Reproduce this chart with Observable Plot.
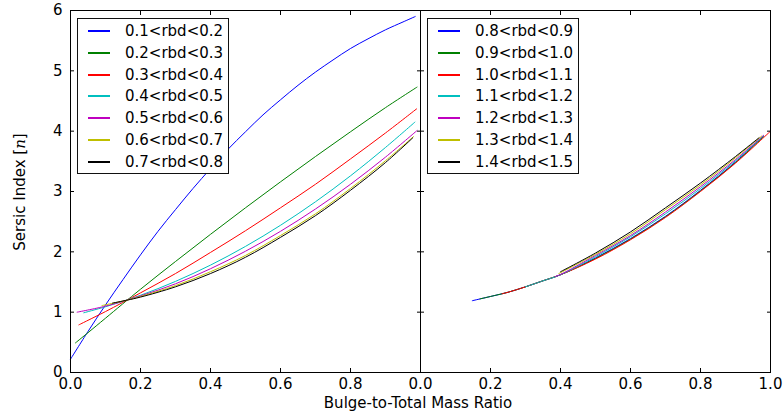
<!DOCTYPE html>
<html><head><meta charset="utf-8">
<script src="https://cdn.jsdelivr.net/npm/d3@7"></script>
<script src="https://cdn.jsdelivr.net/npm/@observablehq/plot@0.6"></script>
<style>
body{margin:0;background:#fff;}
#wrap{position:relative;width:783px;height:417px;overflow:hidden;font-family:"DejaVu Sans",sans-serif;color:#000;}
#wrap svg{overflow:visible;}
.panel{position:absolute;top:0;}
.lg{position:absolute;border:1px solid #111;background:#fff;box-sizing:border-box;}
.row{position:absolute;height:20px;line-height:20px;font-size:15px;white-space:nowrap;}
.smp{position:absolute;height:0;}
.ylab{position:absolute;left:19.5px;top:191.5px;transform:translate(-50%,-50%) rotate(-90deg);font-size:15px;white-space:nowrap;}
.xlab{position:absolute;left:418px;top:394px;transform:translateX(-50%);font-size:15px;white-space:nowrap;}
</style></head>
<body><div id="wrap"></div>
<script>
// ---- data ----
const colors = ["#0000ff","#008000","#ff0000","#00bfbf","#bf00bf","#bfbf00","#000000"];
const leftLabels  = ["0.1<rbd<0.2","0.2<rbd<0.3","0.3<rbd<0.4","0.4<rbd<0.5","0.5<rbd<0.6","0.6<rbd<0.7","0.7<rbd<0.8"];
const rightLabels = ["0.8<rbd<0.9","0.9<rbd<1.0","1.0<rbd<1.1","1.1<rbd<1.2","1.2<rbd<1.3","1.3<rbd<1.4","1.4<rbd<1.5"];
const xTicksLeft  = [0,0.2,0.4,0.6,0.8];
const xTicksRight = [0,0.2,0.4,0.6,0.8,1.0];
const xTicksAll   = [0,0.2,0.4,0.6,0.8,1.0];
const yTicks      = [0,1,2,3,4,5,6];

// left panel: rbd 0.1 .. 0.8  ([B/T, n])
const L1 = [[0,0.22],[0.05,0.68],[0.1,1.12],[0.15,1.54],[0.2,1.95],[0.25,2.34],[0.3,2.7],[0.35,3.05],[0.4,3.38],[0.45,3.7],[0.5,3.99],[0.55,4.27],[0.6,4.52],[0.65,4.76],[0.7,4.98],[0.75,5.18],[0.8,5.37],[0.85,5.53],[0.9,5.68],[0.95,5.81],[0.985,5.9]];
const L2 = [[0.014,0.49],[0.05,0.66],[0.1,0.9],[0.2,1.38],[0.3,1.84],[0.4,2.29],[0.5,2.73],[0.6,3.16],[0.7,3.58],[0.8,3.99],[0.9,4.39],[0.99,4.73]];
const L3 = [[0.024,0.79],[0.05,0.865],[0.1,1.01],[0.2,1.32],[0.3,1.64],[0.4,1.99],[0.5,2.35],[0.6,2.73],[0.7,3.12],[0.8,3.54],[0.9,3.97],[0.989,4.37]];
const L4 = [[0.038,0.99],[0.1,1.09],[0.2,1.28],[0.3,1.51],[0.4,1.78],[0.5,2.09],[0.6,2.44],[0.7,2.83],[0.8,3.26],[0.9,3.73],[0.984,4.15]];
const L5 = [[0.019,1.0],[0.1,1.1],[0.2,1.27],[0.3,1.47],[0.4,1.72],[0.5,2.01],[0.6,2.34],[0.7,2.71],[0.8,3.12],[0.9,3.57],[0.99,4.01]];
const L6 = [[0.09,1.11],[0.162,1.2],[0.2,1.26],[0.3,1.44],[0.4,1.67],[0.5,1.94],[0.6,2.27],[0.7,2.63],[0.8,3.05],[0.9,3.51],[0.98,3.91]];
const L7 = [[0.12,1.15],[0.162,1.2],[0.2,1.25],[0.3,1.42],[0.4,1.64],[0.5,1.91],[0.6,2.24],[0.7,2.6],[0.8,3.02],[0.9,3.48],[0.978,3.89]];

// right panel: rbd 0.8 .. 1.5
const R1 = [[0.148,1.19],[0.2,1.26],[0.25,1.33],[0.3,1.42],[0.35,1.52],[0.4,1.62],[0.5,1.9],[0.6,2.22],[0.7,2.59],[0.8,3.02],[0.9,3.49],[0.98,3.92]];
const R2 = [[0.17,1.22],[0.2,1.26],[0.25,1.33],[0.3,1.42],[0.35,1.52],[0.4,1.62],[0.5,1.89],[0.6,2.21],[0.7,2.58],[0.8,3.01],[0.9,3.48],[0.98,3.91]];
const R3 = [[0.233,1.305],[0.25,1.33],[0.3,1.42],[0.35,1.52],[0.4,1.62],[0.5,1.88],[0.6,2.2],[0.7,2.57],[0.8,3.0],[0.9,3.47],[1.0,4.0]];
const R4 = [[0.3,1.42],[0.35,1.52],[0.4,1.62],[0.5,1.92],[0.6,2.25],[0.7,2.63],[0.8,3.05],[0.9,3.51],[0.98,3.92]];
const R5 = [[0.385,1.59],[0.4,1.625],[0.5,1.94],[0.6,2.27],[0.7,2.66],[0.8,3.08],[0.9,3.53],[0.98,3.93]];
const R6 = [[0.395,1.64],[0.5,1.96],[0.6,2.3],[0.7,2.7],[0.8,3.11],[0.9,3.56],[0.975,3.92]];
const R7 = [[0.4,1.67],[0.5,1.98],[0.6,2.33],[0.7,2.73],[0.8,3.14],[0.9,3.58],[0.967,3.89]];

const leftSeries  = [L1,L2,L3,L4,L5,L6,L7];
const rightSeries = [R1,R2,R3,R4,R5,R6,R7];

// ---- drawing ----
const wrap = document.getElementById("wrap");
const fmtX = d3.format(".1f");
const fmtY = d3.format("d");
const blank = () => "";

function panel(series, opts) {
  const marks = series.map((s, i) => Plot.line(s, {x: d => d[0], y: d => d[1], stroke: colors[i], strokeWidth: 1, curve: "catmull-rom"}));
  marks.push(
    Plot.axisX(opts.xLabels, {anchor: "bottom", tickSize: 0, tickPadding: 6, tickFormat: fmtX, label: null, fontSize: 15}),
    Plot.axisX(xTicksAll, {anchor: "bottom", tickSize: -4, tickFormat: blank, label: null}),
    Plot.axisX(xTicksAll, {anchor: "top", tickSize: -4, tickFormat: blank, label: null}),
    Plot.axisY(yTicks, {anchor: "left", tickSize: -4, tickFormat: blank, label: null}),
    Plot.axisY(yTicks, {anchor: "right", tickSize: -4, tickFormat: blank, label: null})
  );
  if (opts.yLabels) marks.push(Plot.axisY(yTicks, {anchor: "left", tickSize: 0, tickPadding: 8, tickFormat: fmtY, label: null, fontSize: 15}));
  marks.push(Plot.frame({stroke: "#000", strokeWidth: 1}));
  return Plot.plot({
    width: opts.width, height: 417,
    marginLeft: opts.marginLeft, marginRight: opts.marginRight, marginTop: 10, marginBottom: 45,
    x: {domain: [0, 1]}, y: {domain: [0, 6]},
    style: {fontFamily: "DejaVu Sans", fontSize: "15px", color: "#000", background: "transparent"},
    marks
  });
}

const left = panel(leftSeries, {width: 420, marginLeft: 70, marginRight: 0, xLabels: xTicksLeft, yLabels: true});
left.classList.add("panel"); left.style.left = "0px";
const right = panel(rightSeries, {width: 363, marginLeft: 0, marginRight: 13, xLabels: xTicksRight, yLabels: false});
right.classList.add("panel"); right.style.left = "420px";
wrap.appendChild(left);
wrap.appendChild(right);

function legend(labels, box) {
  const lg = document.createElement("div");
  lg.className = "lg";
  lg.style.left = box.left + "px"; lg.style.top = box.top + "px";
  lg.style.width = box.width + "px"; lg.style.height = box.height + "px";
  labels.forEach((t, i) => {
    const cy = Math.round(12 + i * 21.8);
    const smp = document.createElement("div");
    smp.className = "smp";
    smp.style.left = "10px"; smp.style.width = "22px";
    smp.style.top = (cy - 1) + "px";
    smp.style.borderTop = "2px solid " + colors[i];
    lg.appendChild(smp);
    const row = document.createElement("div");
    row.className = "row";
    row.style.left = "47px"; row.style.top = (cy - 10) + "px";
    row.textContent = t;
    lg.appendChild(row);
  });
  wrap.appendChild(lg);
}
legend(leftLabels,  {left: 77,  top: 18, width: 152, height: 156});
legend(rightLabels, {left: 427, top: 18, width: 152, height: 156});

const yl = document.createElement("div");
yl.className = "ylab";
yl.innerHTML = 'Sersic Index [<i style="font-family:\'DejaVu Serif\',serif">n</i>]';
wrap.appendChild(yl);
const xl = document.createElement("div");
xl.className = "xlab";
xl.textContent = "Bulge-to-Total Mass Ratio";
wrap.appendChild(xl);
</script>
</body></html>
